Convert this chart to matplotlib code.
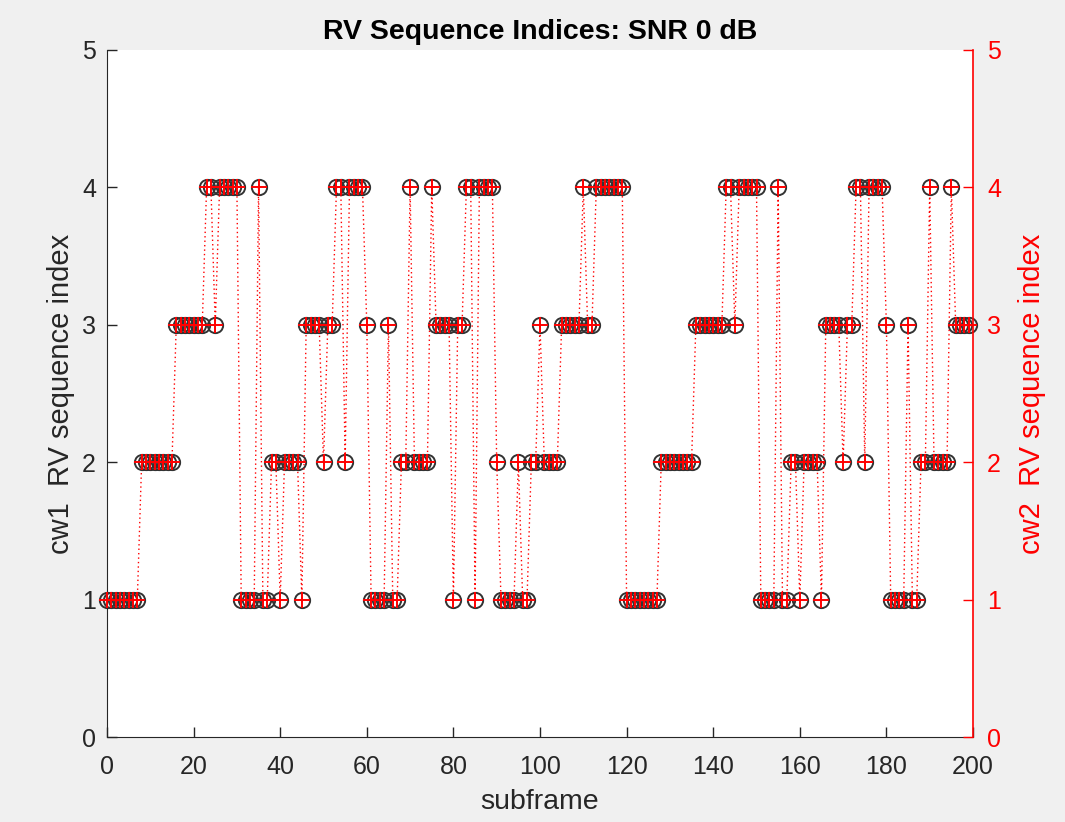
import numpy as np
import matplotlib
matplotlib.use('Agg')
import matplotlib.pyplot as plt

# ------------------------------------------------------------------
# data: RV sequence index per subframe
# ------------------------------------------------------------------
subframe = list(range(200))

cw1_rv = [
    1, 1, 1, 1, 1, 1, 1, 1, 2, 2,
    2, 2, 2, 2, 2, 2, 3, 3, 3, 3,
    3, 3, 3, 4, 4, 3, 4, 4, 4, 4,
    4, 1, 1, 1, 1, 4, 1, 1, 2, 2,
    1, 2, 2, 2, 2, 1, 3, 3, 3, 3,
    2, 3, 3, 4, 4, 2, 4, 4, 4, 4,
    3, 1, 1, 1, 1, 3, 1, 1, 2, 2,
    4, 2, 2, 2, 2, 4, 3, 3, 3, 3,
    1, 3, 3, 4, 4, 1, 4, 4, 4, 4,
    2, 1, 1, 1, 1, 2, 1, 1, 2, 2,
    3, 2, 2, 2, 2, 3, 3, 3, 3, 3,
    4, 3, 3, 4, 4, 4, 4, 4, 4, 4,
    1, 1, 1, 1, 1, 1, 1, 1, 2, 2,
    2, 2, 2, 2, 2, 2, 3, 3, 3, 3,
    3, 3, 3, 4, 4, 3, 4, 4, 4, 4,
    4, 1, 1, 1, 1, 4, 1, 1, 2, 2,
    1, 2, 2, 2, 2, 1, 3, 3, 3, 3,
    2, 3, 3, 4, 4, 2, 4, 4, 4, 4,
    3, 1, 1, 1, 1, 3, 1, 1, 2, 2,
    4, 2, 2, 2, 2, 4, 3, 3, 3, 3,
]
# cw2 sits exactly on top of cw1 in every subframe
cw2_rv = list(cw1_rv)

x_ticks = [0, 20, 40, 60, 80, 100, 120, 140, 160, 180, 200]
y_ticks = [0, 1, 2, 3, 4, 5]

# ------------------------------------------------------------------
plt.rcParams['font.family'] = ['Liberation Sans', 'DejaVu Sans']
axis_gray = '#262626'

fig = plt.figure(figsize=(10.65, 8.22), dpi=100, facecolor='#f0f0f0')
ax1 = fig.add_axes([107/1065, 1 - 737/822, 866/1065, 687/822])
ax2 = ax1.twinx()

# cw1 : black circles (left axis)
ax1.plot(subframe, cw1_rv, linestyle='none', marker='o', markersize=11,
         markerfacecolor='none', markeredgecolor='#333333', markeredgewidth=1.4,
         clip_on=False)
# cw2 : red plus, dotted line (right axis)
ax2.plot(subframe, cw2_rv, color='red', linestyle=(0, (1, 2.2)), linewidth=1.0,
         marker='+', markersize=11, markeredgewidth=1.4, clip_on=False)

for ax in (ax1, ax2):
    ax.set_xlim(0, 200)
    ax.set_ylim(0, 5)
    ax.set_yticks(y_ticks)
    ax.spines['top'].set_visible(False)

ax1.set_xticks(x_ticks)
ax1.tick_params(axis='both', direction='in', length=7, width=1, colors=axis_gray,
                labelsize=18)
ax1.tick_params(axis='x', pad=13)
ax1.tick_params(axis='y', pad=8)
ax1.spines['left'].set_color(axis_gray)
ax1.spines['bottom'].set_color(axis_gray)
ax1.spines['right'].set_visible(False)
ax2.spines['left'].set_visible(False)
ax2.spines['bottom'].set_visible(False)
ax2.spines['right'].set_color('red')
ax2.spines['right'].set_linewidth(1.2)
ax2.tick_params(axis='y', direction='in', length=7, width=1, colors='red',
                labelsize=18, pad=10)

ax1.set_xlabel('subframe', fontsize=20.5, color=axis_gray, labelpad=7)
ax1.set_ylabel('cw1  RV sequence index', fontsize=21, color=axis_gray, labelpad=5)
ax2.set_ylabel('cw2  RV sequence index', fontsize=21, color='red', labelpad=12)
ax1.set_title('RV Sequence Indices: SNR 0 dB', fontsize=20.5, fontweight='bold',
              color='black', pad=8)

fig.savefig('out.png', dpi=100, facecolor=fig.get_facecolor())
